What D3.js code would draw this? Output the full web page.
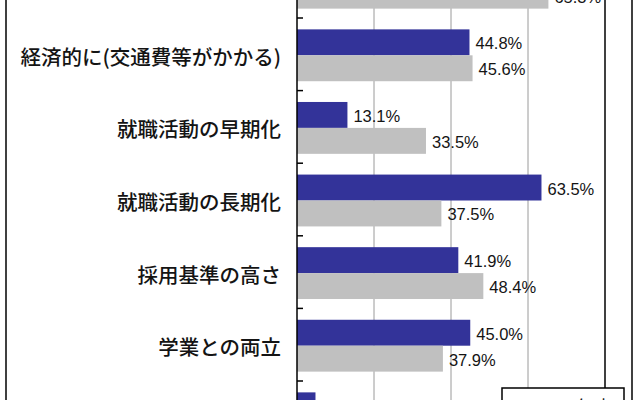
<!DOCTYPE html>
<html>
<head>
<meta charset="utf-8">
<script src="https://cdn.jsdelivr.net/npm/d3@7"></script>
<style>
  body { margin: 0; background: #fff; overflow: hidden; }
</style>
</head>
<body>
<div id="chart"></div>
<script>
// categories top to bottom (first and last are cut off by the frame)
const categories = [
  "時間的に",
  "経済的に(交通費等がかかる)",
  "就職活動の早期化",
  "就職活動の長期化",
  "採用基準の高さ",
  "学業との両立",
  "その他"
];
const seriesNames = ["2017年度", "2016年度"];
const valuesNew = [58.2, 44.8, 13.1, 63.5, 41.9, 45.0, 4.8];
const valuesOld = [65.3, 45.6, 33.5, 37.5, 48.4, 37.9, 6.2];
const gridTicks = [20, 40, 60];

const W = 640, H = 400;
const plot = { left: 297, right: 605 };
const bandTop = -54.6, bandStep = 72.6;

const colors = { "2017年度": "#333399", "2016年度": "#c0c0c0" };

const rows = categories.map((c, i) => ({
  cat: c,
  vals: [
    { s: seriesNames[0], v: valuesNew[i] },
    { s: seriesNames[1], v: valuesOld[i] }
  ]
}));

const svg = d3.select("#chart")
  .append("svg")
  .attr("width", W)
  .attr("height", H)
  .style("display", "block");

svg.append("rect").attr("width", W).attr("height", H).attr("fill", "#fff");

const x = d3.scaleLinear().domain([0, 80]).range([plot.left, plot.right]);
const y0 = d3.scaleBand()
  .domain(categories)
  .range([bandTop, bandTop + bandStep * categories.length]);
const y1 = d3.scaleBand()
  .domain(seriesNames)
  .range([1, y0.bandwidth() + 1])
  .paddingInner(0)
  .paddingOuter(0.4);

// outer chart frame
svg.append("line")
  .attr("x1", 6).attr("x2", 6).attr("y1", -5).attr("y2", H + 5)
  .attr("stroke", "#000").attr("stroke-width", 1.5);
svg.append("line")
  .attr("x1", 632).attr("x2", 632).attr("y1", -5).attr("y2", H + 5)
  .attr("stroke", "#000").attr("stroke-width", 1.5);

// gridlines
svg.append("g")
  .selectAll("line")
  .data(gridTicks)
  .join("line")
  .attr("x1", (d) => x(d)).attr("x2", (d) => x(d))
  .attr("y1", -5).attr("y2", H + 5)
  .attr("stroke", "#9a9a9a").attr("stroke-width", 1);

// plot area right border
svg.append("line")
  .attr("x1", x(80)).attr("x2", x(80)).attr("y1", -5).attr("y2", H + 5)
  .attr("stroke", "#000").attr("stroke-width", 1.5);

// bars
const groups = svg.append("g")
  .selectAll("g")
  .data(rows)
  .join("g")
  .attr("transform", (d) => `translate(0,${y0(d.cat)})`);

groups.selectAll("rect")
  .data((d) => d.vals)
  .join("rect")
  .attr("x", x(0))
  .attr("y", (d) => y1(d.s))
  .attr("width", (d) => x(d.v) - x(0))
  .attr("height", y1.bandwidth())
  .attr("fill", (d) => colors[d.s]);

groups.selectAll("text.val")
  .data((d) => d.vals)
  .join("text")
  .attr("class", "val")
  .attr("x", (d) => x(d.v) + 6)
  .attr("y", (d) => y1(d.s) + y1.bandwidth() / 2 + 1)
  .attr("dominant-baseline", "central")
  .style("font-family", "'Liberation Sans', Arial, sans-serif")
  .style("font-size", "16.5px")
  .style("fill", "#141414")
  .text((d) => d.v.toFixed(1) + "%");

// category labels
svg.append("g")
  .selectAll("text")
  .data(categories)
  .join("text")
  .attr("x", 281)
  .attr("y", (d) => y0(d) + y0.bandwidth() / 2 + 1.5)
  .attr("text-anchor", "end")
  .attr("dominant-baseline", "central")
  .style("font-family", "'Noto Sans CJK JP', sans-serif")
  .style("font-size", "20.5px")
  .style("font-weight", 500)
  .style("fill", "#141414")
  .text((d) => d);

// category axis with inside ticks at band boundaries
svg.append("line")
  .attr("x1", plot.left).attr("x2", plot.left).attr("y1", -5).attr("y2", H + 5)
  .attr("stroke", "#000").attr("stroke-width", 1.5);
svg.append("g")
  .selectAll("line")
  .data(categories)
  .join("line")
  .attr("x1", plot.left).attr("x2", plot.left + 6)
  .attr("y1", (d) => y0(d)).attr("y2", (d) => y0(d))
  .attr("stroke", "#000").attr("stroke-width", 1.5);

// legend box (mostly cut off at the bottom)
const legend = svg.append("g").attr("transform", "translate(502,388)");
legend.append("rect")
  .attr("width", 122).attr("height", 60)
  .attr("fill", "#fff").attr("stroke", "#000").attr("stroke-width", 1.5);
legend.selectAll("g")
  .data(seriesNames)
  .join("g")
  .attr("transform", (d, i) => `translate(12,${18 + i * 24})`)
  .call((g) => {
    g.append("rect")
      .attr("x", 0).attr("y", -6).attr("width", 12).attr("height", 12)
      .attr("fill", (d) => colors[d]);
    g.append("text")
      .attr("x", 22).attr("y", 0)
      .attr("dominant-baseline", "central")
      .style("font-family", "'Noto Sans CJK JP', sans-serif")
      .style("font-size", "18px")
      .style("fill", "#141414")
      .text((d) => d);
  });
</script>
</body>
</html>
